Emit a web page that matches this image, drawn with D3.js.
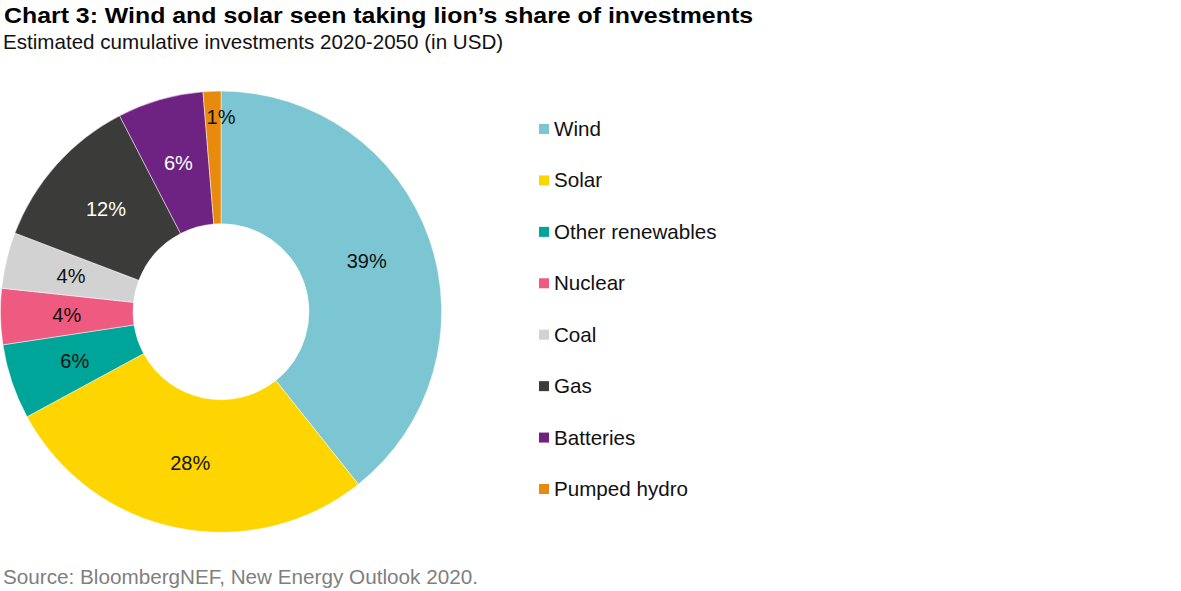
<!DOCTYPE html>
<html>
<head>
<meta charset="utf-8">
<script src="https://cdn.jsdelivr.net/npm/d3@7"></script>
<style>
  html, body { margin: 0; padding: 0; background: #fff; }
  svg { display: block; font-family: Arial, "Liberation Sans", Helvetica, sans-serif; }
</style>
</head>
<body>
<svg id="chart" width="1181" height="591"></svg>
<script>
// ---- data ----
const categories = ["Wind", "Solar", "Other renewables", "Nuclear", "Coal", "Gas", "Batteries", "Pumped hydro"];
const shares = [39.3, 27.8, 5.5, 4.1, 4.1, 11.6, 6.3, 1.3];
const labels = ["39%", "28%", "6%", "4%", "4%", "12%", "6%", "1%"];
const colors = ["#7BC6D2", "#FFD500", "#00A599", "#EF5A80", "#D2D2D2", "#3B3C3A", "#6E2282", "#E88A0E"];
const labelColors = ["#111", "#111", "#111", "#111", "#111", "#fff", "#fff", "#111"];

const titleText = "Chart 3: Wind and solar seen taking lion’s share of investments";
const subtitleText = "Estimated cumulative investments 2020-2050 (in USD)";
const sourceText = "Source: BloombergNEF, New Energy Outlook 2020.";

// ---- layout ----
const svg = d3.select("#chart");
const cx = 221, cy = 311.7, rOuter = 220.6, rInner = 88;

svg.append("text").attr("x", 4).attr("y", 23.3)
  .attr("font-weight", "bold").attr("font-size", 22.5).attr("fill", "#000")
  .attr("textLength", 749).attr("lengthAdjust", "spacingAndGlyphs")
  .text(titleText);
svg.append("text").attr("x", 3).attr("y", 49)
  .attr("font-size", 20.6).attr("fill", "#111")
  .text(subtitleText);
svg.append("text").attr("x", 3).attr("y", 584)
  .attr("font-size", 20.7).attr("fill", "#7f7f7f")
  .text(sourceText);

const data = categories.map((c, i) => ({ name: c, value: shares[i], label: labels[i], color: colors[i], lc: labelColors[i] }));

const pie = d3.pie().value(d => d.value).sort(null);
const arcs = pie(data);
const arc = d3.arc().innerRadius(rInner).outerRadius(rOuter);
const labelArc = d3.arc().innerRadius(rInner).outerRadius(rOuter);
const outerLabelArc = d3.arc().innerRadius(195).outerRadius(195);

const g = svg.append("g").attr("transform", `translate(${cx},${cy})`);
g.selectAll("path.slice").data(arcs).join("path")
  .attr("class", "slice")
  .attr("d", arc)
  .attr("fill", d => d.data.color)
  .attr("stroke", "#ffffff")
  .attr("stroke-opacity", 0.6)
  .attr("stroke-width", 0.8);

g.selectAll("text.lbl").data(arcs).join("text")
  .attr("class", "lbl")
  .attr("transform", d => {
    const small = d.data.value < 2;
    const p = small ? outerLabelArc.centroid(d) : labelArc.centroid(d);
    const dx = small ? 8 : 0;
    return `translate(${p[0] + dx},${p[1]})`;
  })
  .attr("text-anchor", "middle")
  .attr("dy", "0.35em")
  .attr("font-size", 20)
  .attr("fill", d => d.data.lc)
  .text(d => d.data.label);

// ---- legend ----
const legendY = d3.scalePoint().domain(categories).range([129, 489]);
const lg = svg.append("g");
const item = lg.selectAll("g").data(data).join("g")
  .attr("transform", d => `translate(539,${legendY(d.name)})`);
item.append("rect").attr("x", 0).attr("y", -5).attr("width", 10).attr("height", 10)
  .attr("fill", d => d.color);
item.append("text").attr("x", 15).attr("y", 7)
  .attr("font-size", 20.6).attr("fill", "#111")
  .text(d => d.name);
</script>
</body>
</html>
